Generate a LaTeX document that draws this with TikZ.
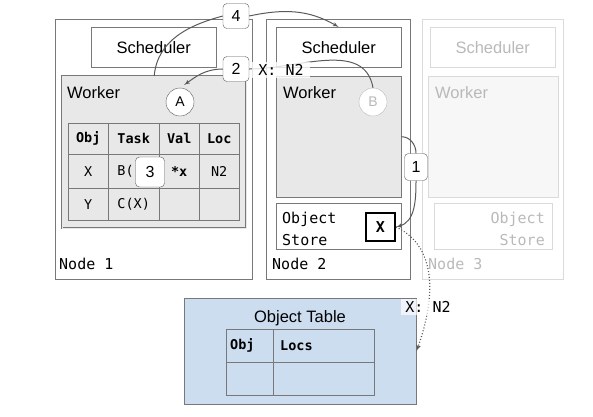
\documentclass[tikz,border=0pt]{standalone}
\usepackage{fontspec}
\setmainfont{Liberation Sans}
\setmonofont{DejaVu Sans Mono}
\usepackage{tikz}
\usetikzlibrary{shapes,arrows}
\definecolor{boxgray}{RGB}{120,120,120}
\definecolor{linegray}{RGB}{90,90,90}
\definecolor{workerfill}{RGB}{232,232,232}
\definecolor{ghost}{RGB}{218,218,218}
\definecolor{ghosttext}{RGB}{185,185,185}
\definecolor{ghostfill}{RGB}{247,247,247}
\definecolor{tablefill}{RGB}{205,221,240}
\tikzstyle{frame} = [rectangle, draw=boxgray, anchor=north west, inner sep=0pt,
    font=\fontsize{16.5}{19}\selectfont]
\tikzstyle{worker} = [frame, fill=workerfill]
\tikzstyle{ghostframe} = [rectangle, draw=ghost, anchor=north west, inner sep=0pt,
    text=ghosttext, font=\fontsize{16.5}{19}\selectfont]
\tikzstyle{cell} = [rectangle, draw=boxgray, anchor=north west, inner sep=0pt,
    font=\fontsize{13.5}{15}\ttfamily]
\tikzstyle{tag} = [rectangle, draw=linegray, fill=white, rounded corners=4pt,
    minimum width=26pt, minimum height=25pt, inner sep=0pt, font=\fontsize{16}{18}\selectfont]
\tikzstyle{agent} = [circle, draw=linegray, fill=white, minimum size=28pt, inner sep=0pt,
    font=\fontsize{14}{16}\selectfont]
\tikzstyle{sans} = [inner sep=0pt, font=\fontsize{16.5}{19}\selectfont]
\tikzstyle{mono} = [inner sep=0pt, font=\fontsize{15}{22}\ttfamily]
\tikzstyle{line} = [draw=linegray, line width=1pt, -latex']

\begin{document}
\begin{tikzpicture}[x=1pt, y=-1pt]
    \useasboundingbox (0,0) rectangle (593,416);

        % Node 1
        \node [frame, minimum width=197, minimum height=260] (node1) at (55,19) {};
        \node [frame, minimum width=125, minimum height=40] (sched1) at (91,27) {Scheduler};
        \node [worker, minimum width=184, minimum height=152, double=workerfill,
            double distance=1.2pt] (worker1) at (62,76) {};
        \node [sans, anchor=base west] (wlabel1) at (67,98) {Worker};
        \node [agent] (circA) at (180,102) {A};
        \node [cell, minimum width=40, minimum height=31] (c11) at (68,123) {\textbf{Obj}};
        \node [cell, minimum width=51, minimum height=31] (c12) at (108,123) {\textbf{Task}};
        \node [cell, minimum width=40, minimum height=31] (c13) at (159,123) {\textbf{Val}};
        \node [cell, minimum width=40, minimum height=31] (c14) at (199,123) {\textbf{Loc}};
        \node [cell, minimum width=40, minimum height=34] (c21) at (68,154) {X};
        \node [cell, minimum width=51, minimum height=34] (c22) at (108,154) {B(\phantom{X)}};
        \node [cell, minimum width=40, minimum height=34] (c23) at (159,154) {\textbf{*x}};
        \node [cell, minimum width=40, minimum height=34] (c24) at (199,154) {N2};
        \node [cell, minimum width=40, minimum height=32] (c31) at (68,188) {Y};
        \node [cell, minimum width=51, minimum height=32] (c32) at (108,188) {C(X)};
        \node [cell, minimum width=40, minimum height=32] (c33) at (159,188) {};
        \node [cell, minimum width=40, minimum height=32] (c34) at (199,188) {};
        \node [mono, anchor=base west] (n1label) at (59,269) {Node 1};

        % Node 2
        \node [frame, minimum width=144, minimum height=260] (node2) at (266,19) {};
        \node [frame, minimum width=125, minimum height=40] (sched2) at (276,27) {Scheduler};
        \node [worker, minimum width=125, minimum height=121] (worker2) at (276,76) {};
        \node [sans, anchor=base west] (wlabel2) at (283,98) {Worker};
        \node [agent, draw=ghosttext, text=ghosttext] (circB) at (373,102) {B};
        \node [frame, minimum width=125, minimum height=46] (store2) at (276,203) {};
        \node [mono, anchor=base west, align=left] (slabel2) at (282,245) {Object\\Store};
        \node [frame, draw=black, line width=2pt, minimum width=29, minimum height=28,
            font=\fontsize{15}{18}\ttfamily\bfseries] (xbox) at (365,212) {X};
        \node [mono, anchor=base west] (n2label) at (272,269) {Node 2};

        % Node 3
        \node [ghostframe, minimum width=141, minimum height=260] (node3) at (422,19) {};
        \node [ghostframe, minimum width=125, minimum height=40] (sched3) at (430,27) {Scheduler};
        \node [ghostframe, fill=ghostfill, minimum width=130, minimum height=121] (worker3) at (428,76) {};
        \node [sans, anchor=base west, text=ghosttext] (wlabel3) at (435,98) {Worker};
        \node [ghostframe, minimum width=118, minimum height=46] (store3) at (434,203) {};
        \node [mono, anchor=base east, align=right, text=ghosttext] (slabel3) at (545,245) {Object\\Store};
        \node [mono, anchor=base west, text=ghosttext] (n3label) at (428,269) {Node 3};

        % Object table
        \node [frame, fill=tablefill, minimum width=232, minimum height=106] (otable) at (184,298) {};
        \node [sans, anchor=base] (otlabel) at (300,322) {Object Table};
        \node [cell, minimum width=47, minimum height=33] (o11) at (226,329) {};
        \node [cell, minimum width=101, minimum height=33] (o12) at (273,329) {};
        \node [cell, minimum width=47, minimum height=33] (o21) at (226,362) {};
        \node [cell, minimum width=101, minimum height=33] (o22) at (273,362) {};
        \node [mono, anchor=west, font=\fontsize{13.5}{15}\ttfamily\bfseries] (objhead) at ([xshift=4pt]o11.west) {Obj};
        \node [mono, anchor=west, font=\fontsize{13.5}{15}\ttfamily\bfseries] (locshead) at ([xshift=7pt]o12.west) {Locs};

        % Step labels
        \node [tag] (four) at (236,16) {4};
        \node [tag] (two) at (236,69) {2};
        \node [tag, minimum width=23pt, minimum height=27pt] (one) at (416,167) {1};
        \node [tag, minimum width=29pt, minimum height=30pt] (three) at (150,172) {3};

        % Draw edges
        \path [line] (worker1.north) to[out=85,in=195] (four.west)
            (four.east) to[out=12,in=150] (sched2.north);
        \path [line, shorten >=5pt] (circB.north) to[out=100,in=0] (two.east)
            (two.west) to[out=180,in=35] (circA.north);
        \path [line] (worker2.east) to[out=0,in=90] (one.north)
            (one.south) to[out=-90,in=15] (xbox.east);
        \path [line, dotted, line width=1.2pt] (xbox.east) to[out=-25,in=70] (otable.east);

        % Edge texts
        \node [mono, fill=white, fill opacity=0.8, text opacity=1, inner xsep=6pt, inner ysep=2pt] (xn2) at (281,70) {X: N2};
        \node [mono, fill=white, fill opacity=0.7, text opacity=1, inner xsep=4pt, inner ysep=2pt] (xn2b) at (428,307) {X: N2};
    \end{tikzpicture}
\end{document}
